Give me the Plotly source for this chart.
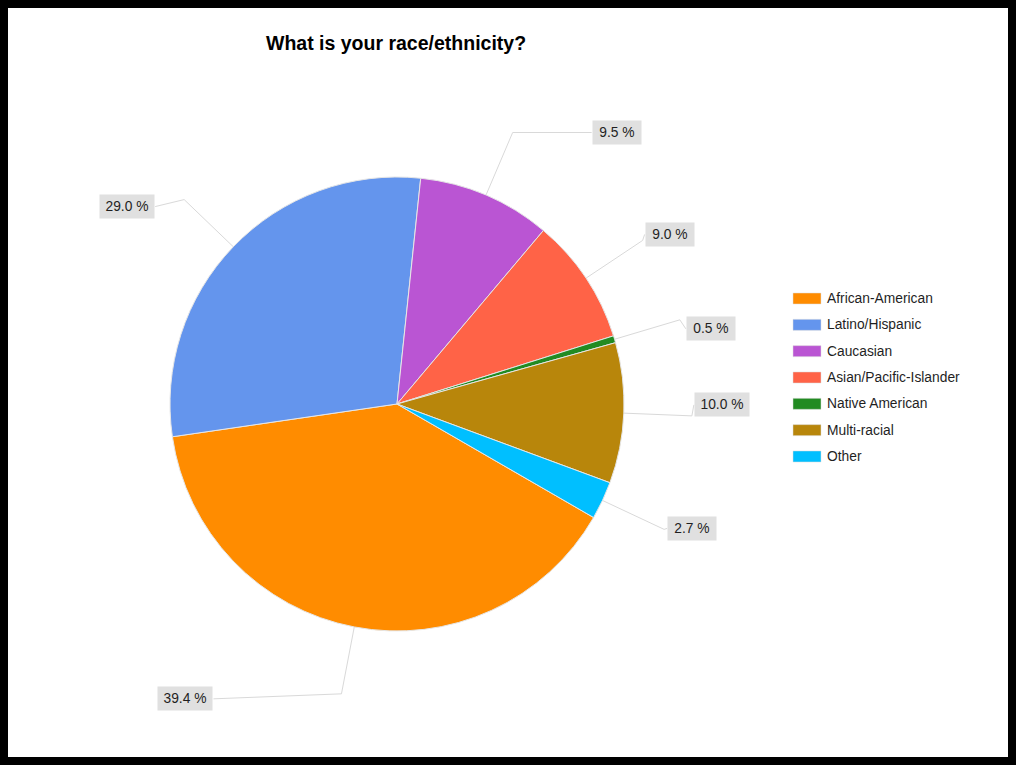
import math
import plotly.graph_objects as go

# ---- data ----
categories = ["African-American", "Latino/Hispanic", "Caucasian",
              "Asian/Pacific-Islander", "Native American", "Multi-racial", "Other"]
percentages = [39.4, 29.0, 9.5, 9.0, 0.5, 10.0, 2.7]
title_text = "What is your race/ethnicity?"

# ---- style / layout ----
colors = ["#FF8C00", "#6495ED", "#BA55D3", "#FF6347", "#228B22", "#B8860B", "#00BFFF"]
W, H = 1016, 765
CX, CY, R = 397, 404, 227          # pie centre and radius in pixels
ROTATION = 120                     # start angle of first slice (clockwise from 12 o'clock)
ELBOW = 1.3                        # leader-line elbow radius factor
label_shift = [(-128, 5), (-29, 7), (79, 0), (2, -6), (6, 9), (2, -11), (3, -1)]
FONT = "Liberation Sans, Arial, sans-serif"
LEG_X, LEG_Y0, LEG_DY = 793, 298.5, 26.33

fig = go.Figure()

fig.add_trace(go.Pie(
    labels=categories, values=percentages, sort=False, direction="clockwise",
    rotation=ROTATION, textinfo="none", showlegend=False,
    marker=dict(colors=colors, line=dict(color="#e6e6e6", width=1)),
    domain=dict(x=[(CX - R) / W, (CX + R) / W], y=[1 - (CY + R) / H, 1 - (CY - R) / H]),
))

total = sum(percentages)
start = ROTATION
annotations = []
for i, v in enumerate(percentages):
    span = v / total * 360
    mid = math.radians(start + span / 2)
    start += span
    ex, ey = CX + R * math.sin(mid), CY - R * math.cos(mid)
    bx, by = CX + R * ELBOW * math.sin(mid), CY - R * ELBOW * math.cos(mid)
    dx, dy = label_shift[i]
    lx, ly = bx + dx, by + dy
    fig.add_trace(go.Scatter(x=[ex, bx, lx], y=[ey, by, ly], mode="lines",
                             line=dict(color="#d9d9d9", width=1),
                             hoverinfo="skip", showlegend=False))
    txt = f"{v:.1f} %"
    left_side = math.sin(mid) < 0
    annotations.append(dict(
        x=lx, y=ly, xref="x", yref="y", text=txt, showarrow=False,
        xanchor="right" if left_side else "left", yanchor="middle",
        bgcolor="#e0e0e0", borderpad=3, width=6 * len(txt) + 12, height=17,
        font=dict(family=FONT, size=13.8, color="#1f1f1f")))

# legend drawn manually with wide swatches
shapes = []
for i, (cat, col) in enumerate(zip(categories, colors)):
    yc = LEG_Y0 + i * LEG_DY
    shapes.append(dict(type="rect", xref="x", yref="y", x0=LEG_X, x1=LEG_X + 28,
                       y0=yc - 5.5, y1=yc + 5.5, fillcolor=col,
                       line=dict(color="#dddddd", width=0.5)))
    annotations.append(dict(x=LEG_X + 32, y=yc, xref="x", yref="y", text=cat,
                            showarrow=False, xanchor="left", yanchor="middle",
                            font=dict(family=FONT, size=13.8, color="#1f1f1f")))

annotations.append(dict(x=396, y=43, xref="x", yref="y", text=f"<b>{title_text}</b>",
                        showarrow=False, xanchor="center", yanchor="middle",
                        font=dict(family=FONT, size=19.5, color="#000000")))

shapes.append(dict(type="rect", xref="paper", yref="paper", x0=0, x1=1, y0=0, y1=1,
                   line=dict(color="black", width=16), fillcolor="rgba(0,0,0,0)"))

fig.update_layout(
    width=W, height=H, margin=dict(l=0, r=0, t=0, b=0),
    paper_bgcolor="white", plot_bgcolor="white",
    xaxis=dict(range=[0, W], visible=False, showgrid=False, zeroline=False, fixedrange=True),
    yaxis=dict(range=[H, 0], visible=False, showgrid=False, zeroline=False, fixedrange=True),
    annotations=annotations, shapes=shapes, showlegend=False,
)

fig.write_html("out.html")
